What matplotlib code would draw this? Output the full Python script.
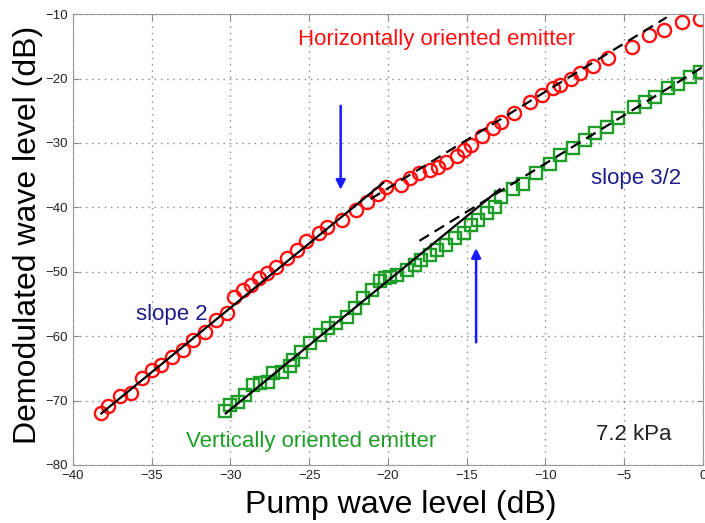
import matplotlib
matplotlib.use('Agg')
import matplotlib.pyplot as plt
import numpy as np

# horizontally oriented emitter (circles)
h_pump = [-38.2, -37.8, -37.0, -36.3, -35.6, -35.0, -34.4, -33.7, -33.0, -32.4,
          -31.6, -30.9, -30.2, -29.8, -29.2, -28.7, -28.2, -27.7, -27.1, -26.4,
          -25.8, -25.2, -24.4, -23.9, -22.9, -22.0, -21.3, -20.6, -20.1, -19.2,
          -18.6, -18.0, -17.3, -16.8, -16.3, -15.6, -15.2, -14.7, -14.0, -13.3,
          -12.8, -12.0, -11.0, -10.2, -9.5, -9.1, -8.4, -7.8, -7.0, -6.0,
          -4.5, -3.4, -2.5, -1.3, -0.2]
h_demod = [-71.9, -70.9, -69.3, -68.9, -66.5, -65.3, -64.5, -63.3, -62.2, -60.6,
           -59.3, -57.5, -56.4, -53.9, -52.8, -52.1, -51.0, -50.2, -49.2, -47.9,
           -46.6, -45.3, -44.0, -43.0, -42.0, -40.4, -39.2, -38.0, -36.8, -36.5,
           -35.5, -34.7, -34.2, -33.7, -32.9, -32.1, -31.1, -30.3, -28.9, -27.7,
           -26.7, -25.4, -23.6, -22.5, -21.4, -21.0, -20.1, -19.2, -18.1, -16.8,
           -15.1, -13.3, -12.5, -11.2, -10.7]

# vertically oriented emitter (squares)
v_pump = [-30.35, -30.0, -29.5, -29.1, -28.55, -28.1, -27.6, -27.3, -26.75, -26.2,
          -26.0, -25.5, -24.95, -24.3, -23.8, -23.3, -22.6, -22.1, -21.6, -21.0,
          -20.5, -20.2, -19.9, -19.45, -18.8, -18.3, -17.9, -17.3, -16.9, -16.3,
          -15.75, -15.2, -14.7, -14.3, -13.7, -13.2, -12.8, -12.05, -11.4, -10.6,
          -9.7, -9.1, -8.25, -7.5, -6.85, -6.1, -5.4, -4.4, -3.7, -3.05,
          -2.2, -1.6, -0.8, -0.2]
v_demod = [-71.7, -70.7, -70.2, -69.1, -67.6, -67.3, -67.1, -65.8, -65.5, -64.7,
           -63.7, -62.4, -61.1, -59.8, -58.8, -58.0, -57.0, -55.6, -54.1, -52.8,
           -51.5, -51.0, -50.8, -50.5, -49.7, -49.0, -48.2, -47.4, -46.6, -45.9,
           -44.8, -44.0, -42.7, -42.0, -40.9, -39.9, -38.4, -37.1, -36.3, -34.7,
           -33.2, -31.9, -30.8, -29.6, -28.5, -27.5, -26.2, -24.4, -23.6, -22.8,
           -21.5, -20.8, -19.7, -19.0]

# fitted lines: (x start, x end, slope, intercept, style)
fits = [(-38.2, -20.3, 2.0, 4.4, '-'),
        (-21.1, -2.3, 1.5, -7.05, '--'),
        (-30.3, -12.9, 2.0, -11.4, '-'),
        (-18.0, 0.0, 1.5, -18.2, '--')]

plt.rcParams['font.family'] = ['Liberation Sans', 'DejaVu Sans']

fig = plt.figure(figsize=(7.05, 5.23), dpi=100)
ax = fig.add_axes([0.1035, 0.111, 0.8935, 0.862])

red = '#ff1010'
green = '#1e9e28'
navy = '#1c1c8a'
blue = '#1a1aff'

ax.plot(h_pump, h_demod, 'o', mfc='none', mec=red, ms=9.5, mew=1.7, zorder=2)
ax.plot(v_pump, v_demod, 's', mfc='none', mec=green, ms=8.5, mew=1.7, zorder=2)

for x0, x1, k, b, ls in fits:
    xs = np.array([x0, x1])
    ax.plot(xs, k * xs + b, color='black', ls=ls, lw=1.6, zorder=3,
            dashes=(5, 3) if ls == '--' else (None, None))

ax.annotate('', xy=(-23.0, -37.7), xytext=(-23.0, -23.8),
            arrowprops=dict(arrowstyle='-|>', color=blue, lw=1.8, mutation_scale=14))
ax.annotate('', xy=(-14.4, -45.9), xytext=(-14.4, -61.4),
            arrowprops=dict(arrowstyle='-|>', color=blue, lw=1.8, mutation_scale=14))

fs = 16
ax.text(-16.9, -14.0, 'Horizontally oriented emitter', color=red, fontsize=fs,
        ha='center', va='center')
ax.text(-24.9, -76.4, 'Vertically oriented emitter', color=green, fontsize=fs,
        ha='center', va='center')
ax.text(-33.7, -56.7, 'slope 2', color=navy, fontsize=fs, ha='center', va='center')
ax.text(-4.25, -35.5, 'slope 3/2', color=navy, fontsize=fs, ha='center', va='center')
ax.text(-4.4, -75.3, '7.2 kPa', color='#222222', fontsize=fs, ha='center', va='center')

ax.set_xlim(-40, 0)
ax.set_ylim(-80, -10)
ax.set_xticks(np.arange(-40, 1, 5))
ax.set_yticks(np.arange(-80, -9, 10))
ax.grid(True, ls=(0, (1, 3.5)), color='#888888', lw=1.0)
ax.tick_params(direction='in', labelsize=9.5, color='#888888', length=4,
               top=True, right=True, labelcolor='#222222')
for s in ax.spines.values():
    s.set_color('#999999')

ax.set_xlabel('Pump wave level (dB)', fontsize=23)
ax.set_ylabel('Demodulated wave level (dB)', fontsize=23)
ax.xaxis.set_label_coords(0.52, -0.055, transform=ax.transAxes)
ax.xaxis.label.set_va('top')
ax.yaxis.set_label_coords(-0.048, 0.51, transform=ax.transAxes)

fig.savefig('out.png', dpi=100)
